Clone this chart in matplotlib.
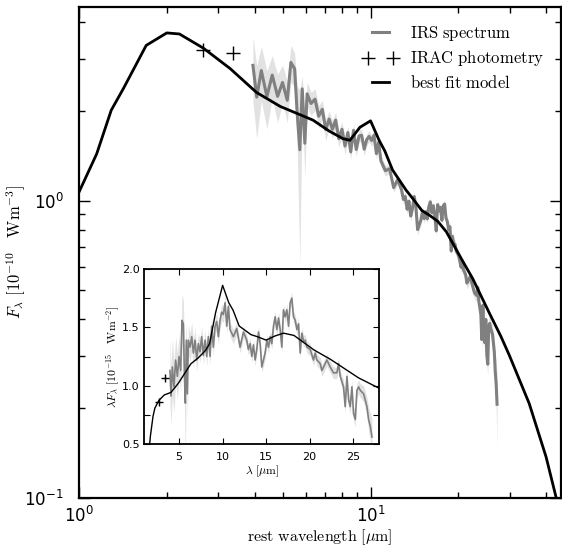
import matplotlib
matplotlib.use('Agg')
import matplotlib.pyplot as plt
import numpy as np
from matplotlib.ticker import MultipleLocator
from matplotlib.legend_handler import HandlerLine2D

# ---------------- data ----------------
# best fit model: F_lambda [1e-10 W m^-3]
model_wave = [1.0, 1.15, 1.29, 1.42, 1.70, 2.0, 2.21, 2.67, 3.3, 4.06, 4.9, 6.35, 7.2,
              8.04, 8.5, 9.2, 10.0, 10.7, 11.2, 11.9, 13.25, 14.0, 15.0, 16.0, 17.0,
              18.2, 20.5, 22.4, 25.6, 28.0, 29.9, 35.0, 40.0, 43.3, 45.0]
model_flux = [1.07, 1.44, 2.02, 2.39, 3.34, 3.68, 3.65, 3.27, 2.79, 2.32, 2.08, 1.87, 1.72,
              1.62, 1.60, 1.77, 1.86, 1.60, 1.47, 1.27, 1.085, 1.014, 0.927, 0.891, 0.853,
              0.786, 0.637, 0.547, 0.417, 0.349, 0.302, 0.2075, 0.137, 0.100, 0.085]

# IRAC photometry: F_lambda [1e-10 W m^-3]
irac_wave = [2.66, 3.37]
irac_flux = [3.22, 3.15]

# IRS spectrum: lambda F_lambda [1e-15 W m^-2] and its uncertainty
irs_wave = [3.95, 4.07, 4.22, 4.41, 4.60, 4.80, 4.99, 5.18, 5.33, 5.49, 5.60, 5.72, 5.83, 5.95,
            6.06, 6.25, 6.45, 6.64, 6.83, 7.02, 7.21, 7.40, 7.59, 7.78, 7.98, 8.17, 8.36, 8.55,
            8.74, 8.93, 9.13, 9.32, 9.51, 9.70, 9.89, 10.08, 10.28, 10.47, 10.66, 10.85, 11.24,
            11.62, 12.00, 12.39, 12.77, 12.96, 13.16, 13.35, 13.54, 13.73, 13.92, 14.12, 14.31,
            14.50, 14.69, 14.88, 15.08, 15.27, 15.46, 15.65, 15.84, 16.03, 16.23, 16.42, 16.61,
            16.80, 16.99, 17.18, 17.38, 17.57, 17.76, 17.95, 18.14, 18.34, 18.53, 18.72, 18.91,
            19.10, 19.30, 19.49, 19.68, 20.06, 20.44, 20.64, 20.83, 21.21, 21.40, 21.60, 21.98,
            22.36, 22.74, 23.13, 23.32, 23.51, 23.89, 24.08, 24.28, 24.47, 24.66, 24.85, 25.04,
            25.24, 25.43, 25.62, 25.81, 26.20, 26.58, 26.77, 26.97, 27.16]
irs_lamflam = [1.13, 0.91, 1.16, 0.99, 1.22, 1.08, 1.25, 1.13, 1.56, 1.53, 1.11, 0.85, 1.39, 0.93,
               1.39, 1.33, 1.42, 1.28, 1.39, 1.22, 1.36, 1.29, 1.42, 1.26, 1.39, 1.25, 1.42, 1.25,
               1.51, 1.33, 1.51, 1.55, 1.42, 1.56, 1.63, 1.61, 1.71, 1.51, 1.68, 1.48, 1.42,
               1.49, 1.33, 1.46, 1.39, 1.31, 1.36, 1.25, 1.35, 1.22, 1.31, 1.46, 1.36,
               1.16, 1.22, 1.28, 1.39, 1.33, 1.42, 1.36, 1.51, 1.59, 1.48, 1.58, 1.48,
               1.33, 1.65, 1.59, 1.65, 1.51, 1.71, 1.75, 1.59, 1.56, 1.48, 1.53, 1.28,
               1.45, 1.38, 1.39, 1.33, 1.31, 1.22, 1.28, 1.22, 1.19, 1.13, 1.16, 1.22,
               1.16, 1.11, 1.11, 1.19, 1.08, 0.99, 0.82, 1.08, 0.88, 0.82, 0.99, 0.76,
               0.71, 0.96, 0.99, 0.96, 0.93, 0.82, 0.71, 0.65, 0.56]
irs_err = [0.28, 0.25, 0.24, 0.22, 0.2, 0.2, 0.18, 0.18, 0.22, 0.2,
           0.25, 0.5, 0.15, 0.22, 0.13, 0.12, 0.12, 0.11, 0.1, 0.1,
           0.09, 0.09, 0.09, 0.08, 0.08, 0.08, 0.07, 0.07, 0.07, 0.07,
           0.07, 0.07, 0.07, 0.07, 0.07, 0.07, 0.07, 0.07, 0.06, 0.06,
           0.06, 0.05, 0.05, 0.05, 0.05, 0.05, 0.05, 0.05, 0.05, 0.05,
           0.05, 0.05, 0.05, 0.05, 0.05, 0.05, 0.05, 0.05, 0.05, 0.05,
           0.05, 0.05, 0.05, 0.05, 0.05, 0.05, 0.05, 0.05, 0.05, 0.05,
           0.05, 0.05, 0.05, 0.05, 0.05, 0.05, 0.05, 0.05, 0.05, 0.05,
           0.05, 0.05, 0.05, 0.05, 0.05, 0.05, 0.05, 0.05, 0.05, 0.05,
           0.05, 0.05, 0.05, 0.05, 0.06, 0.06, 0.06, 0.06, 0.06, 0.06,
           0.06, 0.06, 0.06, 0.06, 0.06, 0.07, 0.08, 0.1, 0.12, 0.16]

# ---------------- style ----------------
plt.rcParams['mathtext.fontset'] = 'cm'
plt.rcParams['font.family'] = ['DejaVu Sans']
plt.rcParams['axes.unicode_minus'] = False

GREY = '#808080'
BAND = '#e2e2e2'

lam = np.array(irs_wave)
lf = np.array(irs_lamflam)
er = np.array(irs_err)
# convert lambda*F_lambda [1e-15 W m^-2] -> F_lambda [1e-10 W m^-3]
F = 10.0 * lf / lam
F_lo = 10.0 * (lf - er) / lam
F_hi = 10.0 * (lf + er) / lam

mw = np.array(model_wave)
mf = np.array(model_flux)
iw = np.array(irac_wave)
iflux = np.array(irac_flux)

fig = plt.figure(figsize=(5.62, 5.47), dpi=100)
ax = fig.add_axes([79 / 562, 1 - 497.5 / 547, 482 / 562, 490.5 / 547])
ax.set_xscale('log')
ax.set_yscale('log')

ax.fill_between(lam, F_lo, F_hi, color=BAND, lw=0, zorder=1)
ax.plot(lam, F, color=GREY, lw=2.2, zorder=2, label=r'$\mathrm{IRS\ spectrum}$')
irac_line, = ax.plot(iw, iflux, '+', color='k', ms=10, mew=1.0, zorder=3,
                     label=r'$\mathrm{IRAC\ photometry}$')
ax.plot(mw, mf, color='k', lw=2.0, zorder=4, label=r'$\mathrm{best\ fit\ model}$')

ax.set_xlim(1, 45)
ax.set_ylim(0.1, 4.5)
for s in ax.spines.values():
    s.set_linewidth(1.6)
ax.tick_params(which='both', direction='in', top=True, right=True, labelsize=12)
ax.tick_params(which='major', length=8, width=1.0)
ax.tick_params(which='minor', length=4, width=1.0)
ax.tick_params(axis='x', which='major', pad=6)
ax.tick_params(axis='y', which='major', pad=11)

ax.set_xlabel(r'$\mathrm{rest\ wavelength\ [}\mu\mathrm{m]}$', fontsize=11.5, labelpad=1)
ax.set_ylabel(r'$F_\lambda\ [10^{-10}\ \ \ \mathrm{Wm}^{-3}]$', fontsize=12, labelpad=-3)

leg = ax.legend(loc='upper right', frameon=False, fontsize=12, numpoints=2,
                handlelength=1.6, handletextpad=1.0, labelspacing=0.35,
                borderaxespad=0.6,
                handler_map={irac_line: HandlerLine2D(marker_pad=0.05, numpoints=2)})

# ---------------- inset ----------------
axin = fig.add_axes([144.3 / 562, 1 - 444 / 547, 235 / 562, 175 / 547])
axin.fill_between(lam, lf - er, lf + er, color=BAND, lw=0, zorder=1)
axin.plot(lam, lf, color=GREY, lw=1.2, zorder=2)
axin.plot(iw, iw * iflux / 10.0, '+', color='k', ms=6, mew=1.0, zorder=3)
axin.plot(mw, mw * mf / 10.0, color='k', lw=1.0, zorder=4)
axin.set_xlim(1, 28)
axin.set_ylim(0.5, 2.0)
axin.xaxis.set_major_locator(MultipleLocator(5))
axin.yaxis.set_major_locator(MultipleLocator(0.5))
axin.yaxis.set_minor_locator(MultipleLocator(0.25))
for s in axin.spines.values():
    s.set_linewidth(1.3)
axin.tick_params(which='both', direction='in', top=True, right=True, labelsize=8,
                 length=4, width=0.8)
axin.tick_params(axis='x', pad=6)
axin.set_xlabel(r'$\lambda\ [\mu\mathrm{m}]$', fontsize=8.5, labelpad=1)
axin.set_ylabel(r'$\lambda F_\lambda\ [10^{-15}\ \ \ \mathrm{Wm}^{-2}]$', fontsize=8.5, labelpad=0)

fig.savefig('out.png', dpi=100)
